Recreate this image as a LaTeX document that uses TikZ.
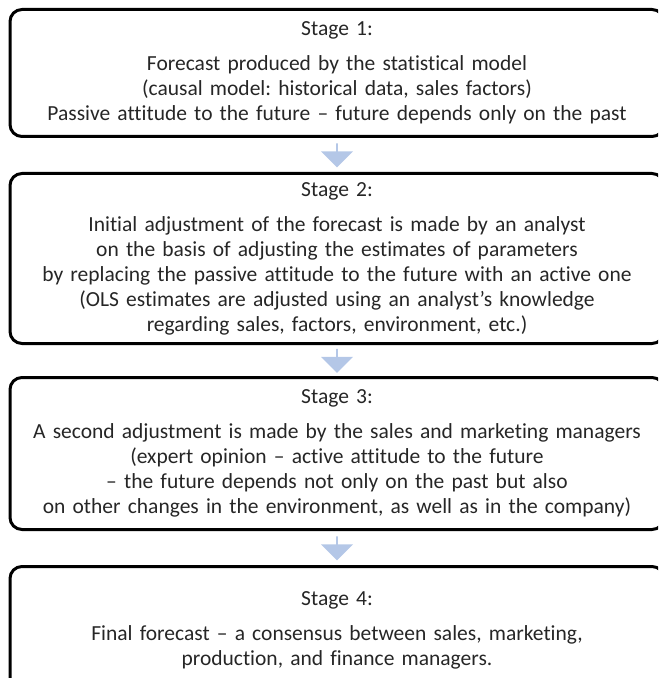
\documentclass[tikz,border=0pt]{standalone}
\usepackage{fontspec}
\setmainfont{Carlito}[Ligatures={TeX,CommonOff}]
\usetikzlibrary{shapes.arrows}
\usetikzlibrary{calc}
\definecolor{arrowblue}{RGB}{180,199,231}
\tikzstyle{stagebox}=[draw=black,line width=1.5pt,rounded corners=6pt,anchor=north,align=center,text width=310pt,inner xsep=8.5pt,inner ysep=4pt,text=black!85,font=\fontsize{10.75}{12.5}\selectfont]
\tikzstyle{downarrow}=[single arrow,shape border rotate=270,fill=arrowblue,draw=none,inner sep=0pt,minimum width=16pt,minimum height=12pt,single arrow head extend=4pt]
\frenchspacing

\begin{document}
\begin{tikzpicture}[x=0.5pt,y=-0.5pt]

    \useasboundingbox (0,0) rectangle (658,678);
    \clip (0,0) rectangle (658,678);

    % the four stages
    \node[stagebox,minimum height=63.5pt] (stage1) at (337,8) {Stage 1:\\[5pt]
        Forecast produced by the statistical model\\
        (causal model: historical data, sales factors)\\
        Passive attitude to the future -- future depends only on the past};

    \node[stagebox,minimum height=85pt] (stage2) at (337,172) {Stage 2:\\[5pt]
        Initial adjustment of the forecast is made by an analyst\\
        on the basis of adjusting the estimates of parameters\\
        by replacing the passive attitude to the future with an active one\\
        (OLS estimates are adjusted using an analyst's knowledge\\
        regarding sales, factors, environment, etc.)};

    \node[stagebox,minimum height=76pt] (stage3) at (337,376) {Stage 3:\\[5pt]
        A second adjustment is made by the sales and marketing managers\\
        (expert opinion -- active attitude to the future\\
        -- the future depends not only on the past but also\\
        on other changes in the environment, as well as in the company)};

    \node[stagebox,minimum height=64pt] (stage4) at (337,565) {Stage 4:\\[5pt]
        Final forecast -- a consensus between sales, marketing,\\
        production, and finance managers.};

    % arrows between stages
    \foreach \from/ \to in {stage1/stage2, stage2/stage3, stage3/stage4}
        \node[downarrow] (arrow-\from) at ($(\from.south)!0.5!(\to.north)$) {};

\end{tikzpicture}
\end{document}
